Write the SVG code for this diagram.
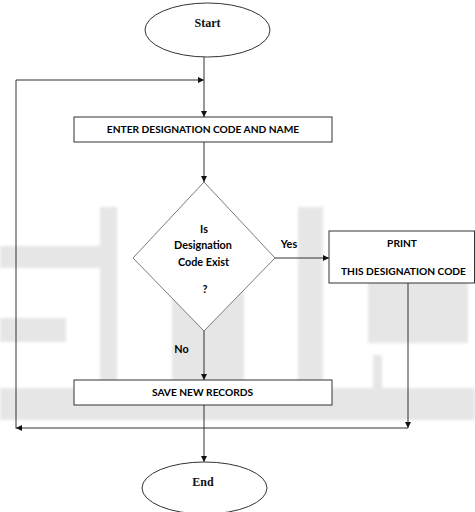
<svg xmlns="http://www.w3.org/2000/svg" width="475" height="512" viewBox="0 0 475 512">
<defs>
<marker id="arr" viewBox="0 0 10 10" refX="10" refY="5" markerWidth="6" markerHeight="6" markerUnits="userSpaceOnUse" orient="auto">
<path d="M0,0 L10,5 L0,10 z" fill="#111"/>
</marker>
<filter id="soft" x="-5%" y="-5%" width="110%" height="110%"><feGaussianBlur stdDeviation="1.5"/></filter>
</defs>
<style>
.wm{fill:#e6e6e6}
.box{fill:#fff;stroke:#333;stroke-width:1}
.term{fill:#fff;stroke:#333;stroke-width:1}
.dia{fill:#fff;stroke:#7a7a7a;stroke-width:1}
.con{fill:none;stroke:#333;stroke-width:1}
.t{font-family:Lato,"Open Sans","Liberation Sans",sans-serif;font-weight:bold;font-size:10.2px;fill:#000;text-anchor:middle}
.m{font-size:10.8px}
.s{font-family:"Liberation Serif","DejaVu Serif",serif;font-weight:bold;font-size:12px;fill:#111;text-anchor:middle}
</style>
<rect width="475" height="512" fill="#fff"/>
<g id="watermark" filter="url(#soft)">
<rect class="wm" x="0" y="246" width="100" height="22"/>
<rect class="wm" x="0" y="318" width="66" height="24"/>
<rect class="wm" x="100" y="207" width="17" height="175"/>
<rect class="wm" x="172" y="240" width="72" height="142"/>
<rect class="wm" x="298" y="207" width="25" height="180"/>
<rect class="wm" x="368" y="250" width="100" height="93"/>
<rect class="wm" x="373" y="355" width="9" height="33"/>
<rect class="wm" x="0" y="388" width="475" height="32"/>
</g>
<g id="connectors">
<line class="con" x1="204" y1="57" x2="204" y2="117" marker-end="url(#arr)"/>
<line class="con" x1="204" y1="142" x2="204" y2="182" marker-end="url(#arr)"/>
<line class="con" x1="275" y1="258" x2="329" y2="258" marker-end="url(#arr)"/>
<line class="con" x1="204" y1="331" x2="204" y2="380" marker-end="url(#arr)"/>
<line class="con" x1="204" y1="405" x2="204" y2="462" marker-end="url(#arr)"/>
<line class="con" x1="408" y1="283" x2="408" y2="428" marker-end="url(#arr)"/>
<line class="con" x1="408" y1="428" x2="16" y2="428" marker-end="url(#arr)"/>
<line class="con" x1="16" y1="428.5" x2="16" y2="80"/>
<line class="con" x1="16" y1="80" x2="204" y2="80" marker-end="url(#arr)"/>
<text class="t m" x="289" y="248">Yes</text>
<text class="t m" x="181.5" y="353">No</text>
</g>
<g id="start">
<ellipse class="term" cx="207.5" cy="30" rx="62.5" ry="27"/>
<text class="s" x="207.5" y="27">Start</text>
</g>
<g id="enter">
<rect class="box" x="74" y="117" width="258" height="25"/>
<text class="t" x="203" y="132.5">ENTER DESIGNATION CODE AND NAME</text>
</g>
<g id="decision">
<polygon class="dia" points="204,182 275,258 204,331 133,258"/>
<text class="t m" x="204" y="233">Is</text>
<text class="t m" x="203" y="249">Designation</text>
<text class="t m" x="203.5" y="266">Code Exist</text>
<text class="t m" x="205" y="293">?</text>
</g>
<g id="print">
<rect class="box" x="329" y="231" width="145.5" height="52"/>
<text class="t" x="402" y="247">PRINT</text>
<text class="t" x="403.5" y="275">THIS DESIGNATION CODE</text>
</g>
<g id="save">
<rect class="box" x="74" y="380" width="258" height="25"/>
<text class="t" x="202.5" y="395.5">SAVE NEW RECORDS</text>
</g>
<g id="end">
<ellipse class="term" cx="204.5" cy="488" rx="62.5" ry="26"/>
<text class="s" x="203" y="486">End</text>
</g>
</svg>
